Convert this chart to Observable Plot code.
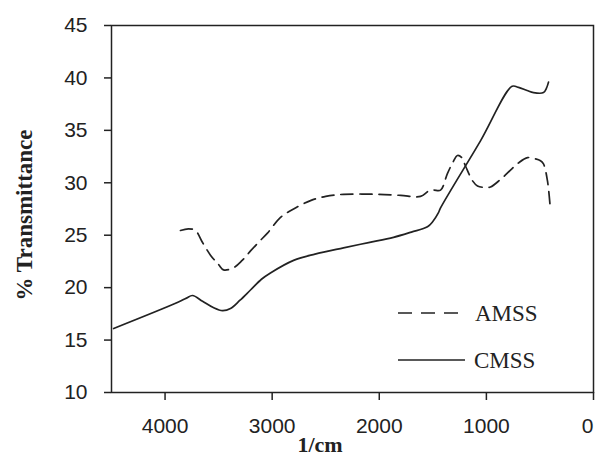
<!DOCTYPE html>
<html>
<head>
<meta charset="utf-8">
<script src="https://cdn.jsdelivr.net/npm/d3@7"></script>
<script src="https://cdn.jsdelivr.net/npm/@observablehq/plot@0.6"></script>
<style>
  html, body { margin: 0; padding: 0; background: #fff; }
  #chart svg { display: block; }
</style>
</head>
<body>
<div id="chart"></div>
<script>
// Wavenumber (1/cm) and % transmittance
const cmssX = [4480, 3880, 3800, 3744, 3650, 3550, 3464, 3389, 3300, 3200, 3100, 3016, 2800, 2600, 2334, 2100, 1867, 1700, 1550, 1500, 1450, 1428, 1055, 760, 700, 620, 560, 467, 440, 420];
const cmssY = [16.1, 18.6, 19.0, 19.25, 18.7, 18.1, 17.8, 18.0, 18.8, 19.8, 20.8, 21.4, 22.6, 23.2, 23.8, 24.3, 24.8, 25.3, 25.8, 26.3, 27.1, 27.6, 34.0, 39.2, 39.1, 38.8, 38.6, 38.6, 39.0, 39.6];

const amssX = [3856, 3781, 3716, 3650, 3576, 3500, 3454, 3361, 3280, 3202, 3120, 3044, 2922, 2800, 2642, 2500, 2334, 2017, 1800, 1615, 1540, 1494, 1428, 1363, 1310, 1270, 1230, 1195, 1130, 1083, 1008, 962, 870, 775, 700, 616, 550, 495, 467, 430, 402];
const amssY = [25.45, 25.6, 25.45, 24.3, 23.1, 22.2, 21.7, 21.9, 22.6, 23.5, 24.4, 25.2, 26.7, 27.5, 28.3, 28.7, 28.9, 28.9, 28.8, 28.7, 29.2, 29.3, 29.3, 30.9, 32.0, 32.6, 32.4, 31.6, 30.2, 29.7, 29.55, 29.6, 30.3, 31.2, 31.9, 32.4, 32.3, 32.1, 31.8, 30.2, 27.4];

const xTicks = [4000, 3000, 2000, 1000, 0];
const yTicks = [10, 15, 20, 25, 30, 35, 40, 45];
const seriesNames = ["AMSS", "CMSS"];

const cmss = cmssX.map((x, i) => ({x, y: cmssY[i]}));
const amss = amssX.map((x, i) => ({x, y: amssY[i]}));

const ink = "#222";
const tickFont = "'Liberation Sans', Arial, sans-serif";
const serif = "'Liberation Serif', 'Times New Roman', serif";

const plot = Plot.plot({
  width: 595,
  height: 459,
  marginLeft: 111,
  marginRight: 2,
  marginTop: 25,
  marginBottom: 67,
  style: {fontFamily: tickFont, fontSize: "21px", color: ink, background: "#fff"},
  x: {domain: [4500, 0], label: null},
  y: {domain: [10, 45], label: null},
  marks: [
    Plot.frame({stroke: ink, strokeWidth: 1.5}),
    Plot.axisX({ticks: xTicks, tickSize: 8, tickPadding: 18, tickFormat: d => String(d), label: null, fontSize: 21, stroke: ink, strokeWidth: 1.5}),
    Plot.axisY({ticks: yTicks, tickSize: 7, tickPadding: 17, tickFormat: d => String(d), label: null, fontSize: 21, stroke: ink, strokeWidth: 1.5}),
    Plot.line(cmss, {x: "x", y: "y", stroke: ink, strokeWidth: 1.7, curve: "catmull-rom"}),
    Plot.line(amss, {x: "x", y: "y", stroke: ink, strokeWidth: 1.7, strokeDasharray: "12,7", curve: "catmull-rom"})
  ]
});

document.getElementById("chart").append(plot);

const svg = d3.select(plot);

// Shift the edge "0" tick label so it stays inside the picture
svg.selectAll("g[aria-label='x-axis tick label'] text").each(function() {
  if (this.textContent === "0") d3.select(this).attr("dx", "-6");
});

// Axis titles
svg.append("text")
  .attr("transform", "translate(32,215) rotate(-90)")
  .attr("text-anchor", "middle")
  .attr("font-family", serif)
  .attr("font-weight", "bold")
  .attr("font-size", 23)
  .attr("fill", ink)
  .text("% Transmittance");

svg.append("text")
  .attr("x", 320)
  .attr("y", 452)
  .attr("text-anchor", "middle")
  .attr("font-family", serif)
  .attr("font-weight", "bold")
  .attr("font-size", 22)
  .attr("fill", ink)
  .text("1/cm");

// Legend
const legend = svg.append("g").attr("font-family", serif).attr("font-size", 23).attr("fill", ink).attr("text-anchor", "start");
const legendRows = [
  {name: seriesNames[0], dash: "14,9", y: 313, x1: 398, x2: 458, tx: 475},
  {name: seriesNames[1], dash: null, y: 360, x1: 398, x2: 465, tx: 474}
];
for (const r of legendRows) {
  legend.append("line")
    .attr("x1", r.x1).attr("x2", r.x2).attr("y1", r.y).attr("y2", r.y)
    .attr("stroke", ink).attr("stroke-width", 1.7)
    .attr("stroke-dasharray", r.dash);
  legend.append("text")
    .attr("x", r.tx).attr("y", r.y + 8)
    .attr("text-anchor", "start")
    .text(r.name);
}
</script>
</body>
</html>
